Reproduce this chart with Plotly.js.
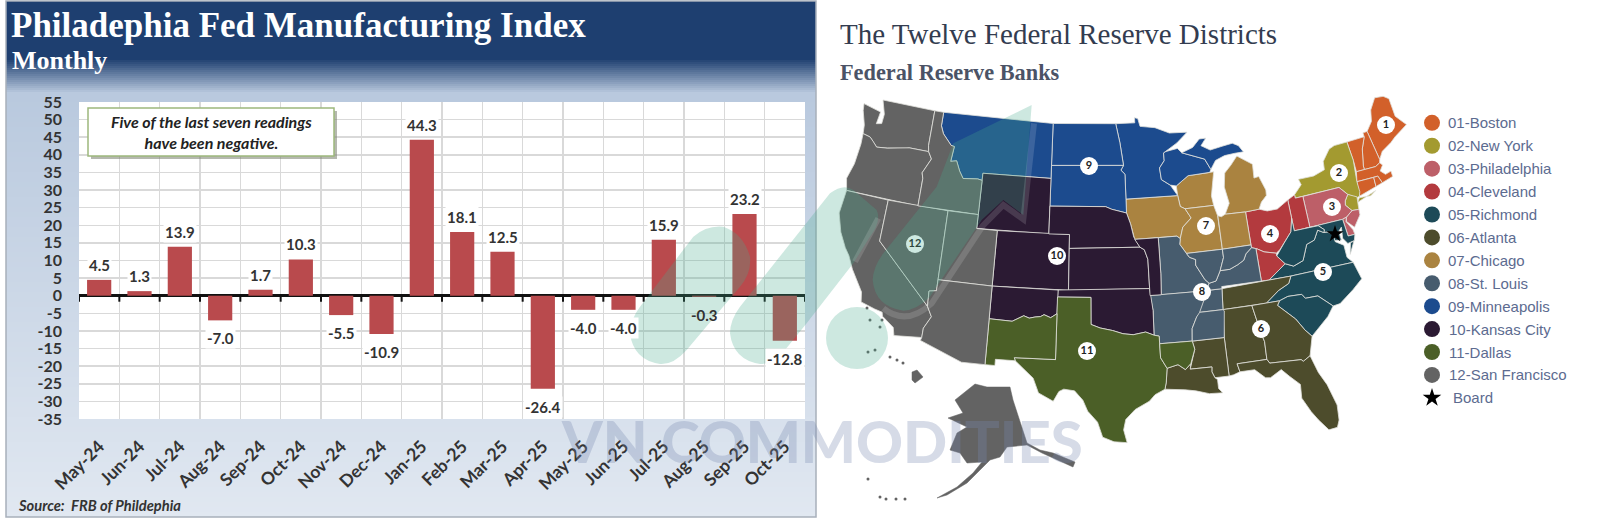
<!DOCTYPE html>
<html><head><meta charset="utf-8"><script src="https://cdn.plot.ly/plotly-3.0.1.min.js"></script>
<style>html,body{margin:0;padding:0;background:#fff;overflow:hidden}#c{width:1600px;height:522px}</style></head><body><div id="c"></div>
<script>
// ---------- chart data ----------
const months=["May-24","Jun-24","Jul-24","Aug-24","Sep-24","Oct-24","Nov-24","Dec-24","Jan-25","Feb-25","Mar-25","Apr-25","May-25","Jun-25","Jul-25","Aug-25","Sep-25","Oct-25"];
const readings=[4.5,1.3,13.9,-7.0,1.7,10.3,-5.5,-10.9,44.3,18.1,12.5,-26.4,-4.0,-4.0,15.9,-0.3,23.2,-12.8];
const yTicks=[55,50,45,40,35,30,25,20,15,10,5,0,-5,-10,-15,-20,-25,-30,-35];
// ---------- districts ----------
const districtNames=["01-Boston","02-New York","03-Philadelphia","04-Cleveland","05-Richmond","06-Atlanta","07-Chicago","08-St. Louis","09-Minneapolis","10-Kansas City","11-Dallas","12-San Francisco"];
const districtColors=["#d2602a","#a39a30","#bd5f68","#b33a3e","#1d4a58","#4d4c2c","#aa8340","#475c6e","#1c4b8e","#2b1a33","#4b5f27","#636363"];
const badgeLabels=["1","2","3","4","5","6","7","8","9","10","11","12"];
const badgeXY=[[1386,125],[1339,173],[1332,207],[1270,234],[1323,272],[1261,329],[1206,226],[1202,292],[1089,166],[1057,256],[1087,351],[915,244]];
const boardXY=[1335,234];
// ---------- state outlines, lon/lat ----------
const WA=[[-124.7,48.4],[-123.1,48.15],[-122.75,48.1],[-122.9,47.2],[-122.35,47.3],[-122.3,48.0],[-122.6,48.6],[-122.8,49],[-117.03,49],[-117.04,46.42],[-116.92,45.99],[-118.98,46],[-119.3,45.93],[-121.2,45.65],[-122.3,45.55],[-122.8,45.9],[-123.2,46.15],[-124,46.27],[-124.1,46.9],[-124.6,47.9]];
const OR=[[-124,46.27],[-123.2,46.15],[-122.8,45.9],[-122.3,45.55],[-121.2,45.65],[-119.3,45.93],[-118.98,46],[-116.92,45.99],[-116.5,45.5],[-117.2,44.4],[-117.03,44],[-117.03,42],[-124.2,42],[-124.5,42.85],[-124.1,44],[-123.95,45.5]];
const CA=[[-124.2,42],[-120,42],[-120,39],[-114.63,35],[-114.15,34.3],[-114.7,33.4],[-114.72,32.72],[-117.12,32.53],[-117.3,33.1],[-118.4,33.75],[-118.5,34.03],[-119.2,34.15],[-120.5,34.45],[-120.65,35.15],[-121.9,36.6],[-122.5,37.5],[-123,38],[-123.75,39],[-124.35,40.3]];
const NV=[[-120,42],[-114.04,42],[-114.04,36.2],[-114.7,36.1],[-114.63,35],[-120,39]];
const ID=[[-117.03,49],[-116.05,49],[-116.05,48],[-115.7,47.45],[-114.7,46.7],[-114.35,46.65],[-114.5,45.55],[-113.9,45.65],[-113.45,44.95],[-113,44.45],[-111.5,44.55],[-111.05,44.48],[-111.05,42],[-117.03,42],[-117.03,44],[-117.2,44.4],[-116.5,45.5],[-116.92,45.99],[-117.04,46.42]];
const MT=[[-116.05,49],[-104.05,49],[-104.05,45],[-111.05,45],[-111.05,44.48],[-111.5,44.55],[-113,44.45],[-113.45,44.95],[-113.9,45.65],[-114.5,45.55],[-114.35,46.65],[-114.7,46.7],[-115.7,47.45],[-116.05,48]];
const WY=[[-111.05,45],[-104.05,45],[-104.05,41],[-111.05,41]];
const UT=[[-114.04,42],[-111.05,42],[-111.05,41],[-109.05,41],[-109.05,37],[-114.04,37]];
const CO=[[-109.05,41],[-102.05,41],[-102.05,37],[-109.05,37]];
const AZ=[[-114.04,37],[-109.05,37],[-109.05,31.33],[-111.07,31.33],[-114.8,32.5],[-114.72,32.72],[-114.7,33.4],[-114.15,34.3],[-114.63,35],[-114.7,36.1],[-114.04,36.2]];
const NMn=[[-109.05,37],[-103,37],[-103.04,35.3],[-103.6,35],[-104.2,35.2],[-104.5,35.05],[-105,35.0],[-105.5,34.9],[-106,35.05],[-107,34.6],[-109.05,34.65]];
const NMs=[[-109.05,34.65],[-107,34.6],[-106,35.05],[-105.5,34.9],[-105,35.0],[-104.5,35.05],[-104.2,35.2],[-103.6,35],[-103.04,35.3],[-103.06,32],[-106.6,32],[-106.5,31.78],[-108.2,31.78],[-108.2,31.33],[-109.05,31.33]];
const TX=[[-103.04,36.5],[-100,36.5],[-100,34.56],[-99.2,34.3],[-98.1,34.1],[-97.2,33.85],[-96.3,33.75],[-95.2,33.9],[-94.48,33.64],[-94.04,33.55],[-94.04,31.99],[-93.55,31.2],[-93.7,30.2],[-93.85,29.7],[-94.7,29.35],[-95.2,28.9],[-96.4,28.35],[-97.2,27.65],[-97.4,26.9],[-97.15,25.96],[-98.2,26.05],[-99.1,26.4],[-99.5,27.5],[-100.3,28.3],[-100.7,29.1],[-101.4,29.77],[-102.3,29.88],[-102.7,29.7],[-103.15,28.98],[-104.4,29.55],[-104.9,30.6],[-106.5,31.78],[-106.6,32],[-103.06,32]];
const OK=[[-103,37],[-94.62,37],[-94.43,35.4],[-94.48,33.64],[-95.2,33.9],[-96.3,33.75],[-97.2,33.85],[-98.1,34.1],[-99.2,34.3],[-100,34.56],[-100,36.5],[-103.04,36.5]];
const KS=[[-102.05,40],[-95.3,40],[-94.9,39.8],[-94.62,39.1],[-94.62,37],[-102.05,37]];
const NE=[[-104.05,43],[-98.5,43],[-97.9,42.8],[-96.45,42.5],[-96.1,41.7],[-95.85,40.75],[-95.3,40],[-102.05,40],[-102.05,41],[-104.05,41]];
const SD=[[-104.05,45.94],[-96.56,45.94],[-96.85,45.6],[-96.45,45.3],[-96.45,43.5],[-96.45,42.5],[-97.9,42.8],[-98.5,43],[-104.05,43]];
const ND=[[-104.05,49],[-97.23,49],[-96.85,47.6],[-96.56,45.94],[-104.05,45.94]];
const MN=[[-97.23,49],[-95.15,49],[-95.15,49.38],[-94.8,49.3],[-94.6,48.72],[-93,48.55],[-91.5,48.07],[-89.6,48],[-90.8,47.3],[-92.05,46.75],[-92.3,46.66],[-92.3,46.1],[-92.85,45.6],[-92.75,44.75],[-91.9,44.3],[-91.25,43.5],[-96.45,43.5],[-96.45,45.3],[-96.85,45.6],[-96.56,45.94],[-96.85,47.6]];
const IA=[[-96.45,43.5],[-91.25,43.5],[-91.1,42.7],[-90.65,42.5],[-90.15,41.8],[-91.05,41.2],[-91.4,40.4],[-91.7,40.6],[-95.77,40.58],[-96.1,41.7],[-96.45,42.5]];
const MOw=[[-95.77,40.58],[-93.5,40.6],[-93.5,38],[-93.6,36.5],[-94.62,36.5],[-94.62,37],[-94.62,39.1],[-94.9,39.8],[-95.3,40]];
const MOe=[[-93.5,40.6],[-91.7,40.6],[-91.4,40.4],[-91.5,40],[-90.95,39.3],[-90.7,39],[-90.15,38.8],[-90.2,38.4],[-89.5,37.3],[-89.15,37],[-89.4,36.5],[-89.7,36],[-90.35,36],[-90.1,36.5],[-93.6,36.5],[-93.5,38]];
const AR=[[-94.62,36.5],[-90.1,36.5],[-90.35,36],[-89.7,36],[-90.1,35],[-90.6,34.7],[-91.1,33.9],[-91.2,33],[-94.04,33],[-94.04,33.55],[-94.48,33.64],[-94.43,35.4]];
const LAn=[[-94.04,33],[-91.2,33],[-91.05,32.4],[-91.5,31.4],[-92,31],[-92.6,31.4],[-93.55,31.2],[-94.04,31.99]];
const LAs=[[-93.55,31.2],[-92.6,31.4],[-92,31],[-91.5,31.4],[-91.6,31],[-89.75,31],[-89.8,30.65],[-89.6,30.2],[-89.4,30.05],[-89.4,29.4],[-89.1,29.05],[-90.2,29.1],[-91.3,29.4],[-92.2,29.55],[-93.85,29.7],[-93.7,30.2]];
const MSn=[[-90.3,35],[-88.2,35],[-88.1,34.9],[-88.4,33],[-91.2,33],[-91.1,33.9],[-90.6,34.7]];
const MSs=[[-91.2,33],[-88.4,33],[-88.4,30.2],[-89.6,30.2],[-89.8,30.65],[-89.75,31],[-91.6,31],[-91.05,32.4]];
const TNw=[[-89.5,36.5],[-88.05,36.5],[-88.2,35],[-90.3,35],[-89.7,36]];
const TNe=[[-88.05,36.5],[-83.68,36.6],[-81.68,36.59],[-82,36.1],[-83,35.75],[-84.3,35],[-88.2,35]];
const AL=[[-88.2,35],[-85.6,35],[-85.2,33],[-85,32.3],[-85.05,31],[-87.6,31],[-87.45,30.4],[-88,30.25],[-88.4,30.2],[-88.4,33]];
const GA=[[-85.6,35],[-83.1,35],[-83.35,34.7],[-82,33.5],[-81.4,32.6],[-80.9,32.05],[-81.4,30.7],[-82.05,30.4],[-82.2,30.55],[-84.86,30.7],[-85.05,31],[-85,32.3],[-85.2,33]];
const FL=[[-87.6,31],[-85.05,31],[-84.86,30.7],[-82.2,30.55],[-82.05,30.4],[-81.4,30.7],[-81,29.4],[-80.5,28.4],[-80.05,26.8],[-80.15,25.7],[-80.4,25.2],[-81.1,25.15],[-81.75,26],[-82.2,26.7],[-82.75,27.8],[-82.65,28.8],[-83.4,29.5],[-84,30.1],[-85,29.65],[-85.4,29.7],[-86.2,30.4],[-87.45,30.4]];
const SC=[[-83.1,35],[-82.3,35.2],[-81.05,35.15],[-80.8,34.82],[-79.67,34.8],[-78.55,33.85],[-79.2,33.2],[-80.9,32.05],[-81.4,32.6],[-82,33.5],[-83.35,34.7]];
const NC=[[-84.3,35],[-83,35.75],[-82,36.1],[-81.68,36.59],[-75.87,36.55],[-75.5,35.25],[-76.5,34.65],[-77.9,33.9],[-78.55,33.85],[-79.67,34.8],[-80.8,34.82],[-81.05,35.15],[-82.3,35.2],[-83.1,35]];
const VA=[[-83.68,36.6],[-81.68,36.59],[-75.87,36.55],[-76.3,37],[-76.3,37.9],[-77,38.3],[-77.05,38.85],[-77.5,39.1],[-77.83,39.13],[-78.35,39.4],[-78.87,38.76],[-79.65,38.58],[-80.3,37.5],[-81.25,37.25],[-81.97,37.54]];
const VAe=[[-75.95,37.15],[-75.3,38],[-75.65,37.95]];
const WV=[[-82.6,38.2],[-81.97,37.54],[-81.25,37.25],[-80.3,37.5],[-79.65,38.58],[-78.87,38.76],[-78.35,39.4],[-77.83,39.13],[-77.72,39.32],[-78.2,39.7],[-79.48,39.72],[-80.52,39.72],[-80.52,40.64],[-80.85,39.7],[-81.7,39],[-82.2,38.6]];
const KYw=[[-89.15,37],[-88.5,37.1],[-88,37.8],[-87.1,37.8],[-86.3,38.05],[-85.7,38.3],[-85.4,38.73],[-84.8,39.1],[-84.4,38.98],[-84.4,36.62],[-88.05,36.65],[-88.05,36.5],[-89.5,36.5]];
const KYe=[[-84.4,38.98],[-84.3,38.95],[-83.7,38.65],[-82.6,38.4],[-82.6,38.2],[-81.97,37.54],[-83.68,36.6],[-84.4,36.62]];
const OH=[[-84.8,41.7],[-83.45,41.73],[-82.7,41.5],[-81.7,41.5],[-80.52,41.98],[-80.52,40.64],[-80.85,39.7],[-81.7,39],[-82.2,38.6],[-82.6,38.4],[-83.7,38.65],[-84.3,38.95],[-84.8,39.1]];
const INn=[[-87.53,41.72],[-87.2,41.62],[-86.8,41.76],[-84.8,41.7],[-84.8,39.3],[-87.53,39.3]];
const INs=[[-87.53,39.3],[-84.8,39.3],[-84.8,39.1],[-85.4,38.73],[-85.7,38.3],[-86.3,38.05],[-87.1,37.8],[-88,37.8],[-87.53,38.7]];
const ILn=[[-90.65,42.5],[-87.8,42.5],[-87.55,41.72],[-87.53,39.3],[-90.95,39.3],[-91.5,40],[-91.4,40.4],[-91.05,41.2],[-90.15,41.8]];
const ILs=[[-90.95,39.3],[-87.53,39.3],[-87.53,38.7],[-88,37.8],[-88.5,37.1],[-89.15,37],[-89.5,37.3],[-90.2,38.4],[-90.15,38.8],[-90.7,39]];
const WIn=[[-92.3,46.66],[-92.05,46.75],[-90.8,46.9],[-90.4,46.55],[-88.1,45.9],[-87.6,45.1],[-87.75,44.9],[-90,44.85],[-91.3,44.2],[-91.9,44.3],[-92.75,44.75],[-92.85,45.6],[-92.3,46.1]];
const WIs=[[-91.25,43.5],[-91.3,44.2],[-90,44.85],[-87.75,44.9],[-87.35,44.9],[-87.55,44.3],[-87.9,43.2],[-87.8,42.5],[-90.65,42.5],[-91.1,42.7]];
const MIu=[[-90.4,46.55],[-89.2,46.85],[-88.4,47.4],[-87.7,47.4],[-88.3,46.9],[-87.4,46.5],[-86.1,46.65],[-85,46.75],[-84.4,46.5],[-84,46],[-84.9,46],[-86,45.95],[-87,45.7],[-87.6,45.1],[-88.1,45.9]];
const MIl=[[-86.8,41.76],[-84.8,41.7],[-83.45,41.73],[-83.1,42.2],[-82.5,42.6],[-82.45,43],[-82.9,44.05],[-83.4,44],[-83.3,45],[-84.75,45.78],[-85.5,45.2],[-86.25,44.7],[-86.5,43.7],[-86.25,42.5]];
const PAw=[[-80.52,41.98],[-79.76,42.25],[-79.76,42],[-79,42],[-79,39.72],[-80.52,39.72]];
const PAe=[[-79,42],[-75.35,42],[-74.7,41.35],[-75.1,40.95],[-75.2,40.65],[-74.72,40.15],[-75.4,39.8],[-75.8,39.72],[-79,39.72]];
const NY=[[-79.76,42.25],[-78.9,42.85],[-79.05,43.27],[-77.5,43.25],[-76.3,43.5],[-76.2,44.1],[-75.3,44.85],[-74.7,45],[-73.35,45],[-73.25,43.6],[-73.5,42.05],[-73.5,41.3],[-73.65,41],[-73.9,40.95],[-74.05,41],[-74.7,41.35],[-75.35,42],[-79.76,42]];
const LI=[[-74,40.6],[-72,41.05],[-72.6,40.8],[-73.7,40.9]];
const NJn=[[-74.7,41.35],[-73.9,41],[-74,40.45],[-74.05,40.1],[-74.72,40.15],[-75.2,40.65],[-75.1,40.95]];
const NJs=[[-74.72,40.15],[-74.05,40.1],[-74.1,39.7],[-74.9,38.95],[-75.5,39.5],[-75.4,39.8]];
const DE=[[-75.8,39.72],[-75.4,39.8],[-75.55,39.5],[-75.1,38.8],[-75.05,38.45],[-75.7,38.46]];
const MD=[[-79.48,39.72],[-75.8,39.72],[-75.7,38.46],[-75.05,38.45],[-75.25,38.03],[-75.9,37.95],[-76.25,38.4],[-76.1,39.2],[-76.45,38.95],[-76.4,38.3],[-77.05,38.4],[-77.05,38.85],[-77.5,39.1],[-77.83,39.13],[-77.72,39.32],[-78.2,39.7]];
const CT=[[-73.5,42.05],[-71.8,42],[-71.85,41.32],[-73.65,41]];
const RI=[[-71.8,42],[-71.38,42],[-71.15,41.45],[-71.85,41.32]];
const MA=[[-73.5,42.05],[-73.27,42.75],[-71.3,42.7],[-70.8,42.87],[-70.6,42.65],[-71,42.3],[-70.6,41.95],[-70,42.05],[-70,41.65],[-71.15,41.45],[-71.38,42]];
const VT=[[-73.35,45],[-71.5,45],[-72.05,44.2],[-72.45,43],[-72.45,42.73],[-73.27,42.75],[-73.25,43.6]];
const NH=[[-71.5,45.3],[-71.05,45.3],[-70.7,43.1],[-70.8,42.87],[-71.3,42.7],[-72.45,42.73],[-72.45,43],[-72.05,44.2],[-71.5,45]];
const ME=[[-71.05,45.3],[-70.3,45.9],[-70,46.7],[-69.2,47.45],[-68.3,47.35],[-67.8,47.05],[-67.8,45.7],[-67.4,45.3],[-67,44.85],[-68.5,44.3],[-69.1,44],[-70.2,43.6],[-70.7,43.1]];
const regions=[[ME,1],[NH,1],[VT,1],[MA,1],[CT,1],[RI,1],[NY,2],[LI,2],[NJn,2],[NJs,3],[PAe,3],[DE,3],[PAw,4],[OH,4],[KYe,4],[MD,5],[VA,5],[VAe,5],[WV,5],[NC,5],[SC,5],[TNe,6],[AL,6],[GA,6],[FL,6],[MSs,6],[LAs,6],[MIl,7],[WIs,7],[IA,7],[ILn,7],[INn,7],[MOe,8],[AR,8],[TNw,8],[MSn,8],[KYw,8],[ILs,8],[INs,8],[MN,9],[ND,9],[SD,9],[MT,9],[WIn,9],[MIu,9],[WY,10],[CO,10],[NE,10],[KS,10],[OK,10],[MOw,10],[NMn,10],[TX,11],[NMs,11],[LAn,11],[WA,12],[OR,12],[CA,12],[NV,12],[ID,12],[UT,12],[AZ,12]];
// insets are read straight off the picture, in canvas units
const alaska=[[975,384],[987,387],[1010,387],[1013,400],[1027,443],[1040,450],[1053,453],[1075,462],[1073,467],[1057,460],[1042,453],[1027,445],[1007,447],[1000,457],[990,460],[980,470],[967,483],[947,495],[937,498],[957,487],[973,473],[982,462],[967,463],[960,453],[950,450],[957,433],[967,427],[948,418],[963,413],[955,400],[965,392]];
const hawaii=[[912,372],[917,370],[923,377],[915,383],[912,380]];
const islets=[[903,363],[890,357],[897,360],[867,308],[870,320],[882,320],[880,327],[875,350],[868,352],[868,479],[880,497],[886,499],[896,499],[905,499]];

// ---------- projection (Albers conic, turned slightly to suit the picture) ----------
const rad=Math.PI/180,p1=29.5*rad,p2=45.5*rad,p0=37.5*rad,l0=-97.5;
const nn=(Math.sin(p1)+Math.sin(p2))/2,CC=Math.cos(p1)**2+2*nn*Math.sin(p1),r0=Math.sqrt(CC-2*nn*Math.sin(p0))/nn;
const SCALE=791,OX=1118,OY=283,TURN=0.03;
function proj(lon,lat){const r=Math.sqrt(CC-2*nn*Math.sin(lat*rad))/nn,t=nn*(lon-l0)*rad;const dx=SCALE*r*Math.sin(t),dy=-SCALE*(r0-r*Math.cos(t));return [OX+dx+TURN*dy,OY+dy-TURN*dx];}

const traces=[];
traces.push({type:'bar',x:months,y:readings,marker:{color:'#b94a4d'},width:0.6,xaxis:'x',yaxis:'y',hoverinfo:'skip',showlegend:false});
regions.forEach(([poly,d])=>{const pts=poly.map(p=>proj(p[0],p[1]));pts.push(pts[0]);
  traces.push({type:'scatter',mode:'lines',x:pts.map(p=>p[0]),y:pts.map(p=>p[1]),fill:'toself',fillcolor:districtColors[d-1],line:{color:'rgba(225,225,220,0.8)',width:1},xaxis:'x2',yaxis:'y2',hoverinfo:'skip',showlegend:false});});
[alaska,hawaii].forEach(poly=>{const c=poly.concat([poly[0]]);traces.push({type:'scatter',mode:'lines',x:c.map(p=>p[0]),y:c.map(p=>p[1]),fill:'toself',fillcolor:districtColors[11],line:{color:districtColors[11],width:0.5},xaxis:'x2',yaxis:'y2',hoverinfo:'skip',showlegend:false});});
traces.push({type:'scatter',mode:'markers',x:islets.map(p=>p[0]),y:islets.map(p=>p[1]),marker:{color:districtColors[11],size:3},xaxis:'x2',yaxis:'y2',hoverinfo:'skip',showlegend:false});
traces.push({type:'scatter',mode:'markers+text',x:badgeXY.map(p=>p[0]),y:badgeXY.map(p=>p[1]),text:badgeLabels,textposition:'middle center',textfont:{family:'Lato',size:11,weight:700,color:'#222'},marker:{color:'#fff',size:18},xaxis:'x2',yaxis:'y2',hoverinfo:'skip',showlegend:false});
traces.push({type:'scatter',mode:'markers',x:[boardXY[0]],y:[boardXY[1]],marker:{symbol:'star',color:'#000',size:13},xaxis:'x2',yaxis:'y2',hoverinfo:'skip',showlegend:false});
const lx=1432,ly0=122.8,ldy=22.92;
traces.push({type:'scatter',mode:'markers',x:districtNames.map(()=>lx),y:districtNames.map((_,i)=>ly0+i*ldy),marker:{color:districtColors,size:16},xaxis:'x2',yaxis:'y2',hoverinfo:'skip',showlegend:false});
traces.push({type:'scatter',mode:'markers',x:[lx],y:[ly0+12*ldy],marker:{symbol:'star',color:'#000',size:14},xaxis:'x2',yaxis:'y2',hoverinfo:'skip',showlegend:false});

// ---------- decoration shapes ----------
const mix=(a,b,t)=>{const h=s=>[1,3,5].map(i=>parseInt(s.substr(i,2),16)),A=h(a),B=h(b);return 'rgb('+A.map((v,i)=>Math.round(v+(B[i]-v)*t)).join(',')+')';};
const PX=x=>x/1600,PY=y=>1-y/522;
const shapes=[];
const lowRect=(x0,x1,y0,y1,fill,line)=>shapes.push({type:'rect',xref:'paper',yref:'paper',x0:PX(x0),x1:PX(x1),y0:PY(y0),y1:PY(y1),fillcolor:fill,line:line||{width:0},layer:'below'});
lowRect(6,816,1,58,'#1e3f70');
for(let y=58;y<92;y+=2) lowRect(6,816,y,y+2.5,mix('#1e3f70','#b9c9de',(y-58)/34));
for(let y=92;y<517;y+=5) lowRect(6,816,y,Math.min(y+5.5,517),mix('#b9c9de','#e1e8f1',(y-92)/425));
lowRect(6,816,1,517,'rgba(0,0,0,0)',{color:'#a8b0bb',width:1.5});
lowRect(79,805,102,419,'#fff');
for(let i=0;i<=18;i++) shapes.push({type:'line',xref:'x',yref:'y',x0:i-0.5,x1:i-0.5,y0:0,y1:-1.7,line:{color:'#111',width:2},layer:'above'});
shapes.push({type:'rect',xref:'x2',yref:'y2',x0:91,x1:337,y0:111,y1:159,fillcolor:'rgba(120,125,110,0.55)',line:{width:0},layer:'above'});
shapes.push({type:'rect',xref:'x2',yref:'y2',x0:88,x1:334,y0:108,y1:156,fillcolor:'#fff',line:{color:'#9db87c',width:1.5},layer:'above'});
const mark='rgba(70,170,140,0.27)';
const wx=z=>610+z/3,wy=z=>90+z/3;
const wp=(cmd)=>cmd.replace(/(-?\d+),(-?\d+)/g,(m,a,b)=>wx(+a)+','+wy(+b));
shapes.push({type:'path',xref:'x2',yref:'y2',path:wp('M 60,730 Q 60,690 90,650 L 250,440 Q 290,405 340,410 Q 400,430 420,500 Q 425,550 390,590 L 230,780 Q 190,825 150,822 Q 70,810 60,730 Z'),fillcolor:mark,line:{width:0},layer:'above'});
shapes.push({type:'path',xref:'x2',yref:'y2',path:wp('M 360,730 Q 360,690 390,650 L 660,310 Q 700,280 730,300 L 800,360 Q 815,395 780,440 L 730,520 L 590,700 L 525,780 Q 490,825 450,822 Q 370,810 360,730 Z'),fillcolor:mark,line:{width:0},layer:'above'});
shapes.push({type:'path',xref:'x2',yref:'y2',path:wp('M 788,570 Q 790,530 820,490 L 980,290 L 1030,160 L 1265,45 L 1240,375 L 1180,330 L 1115,390 L 1000,560 L 960,620 Q 920,660 880,662 Q 795,650 788,570 Z'),fillcolor:mark,line:{width:0},layer:'above'});
shapes.push({type:'circle',xref:'x2',yref:'y2',x0:857-31,x1:857+31,y0:338-31,y1:338+31,fillcolor:mark,line:{width:0},layer:'above'});
// the pale streaks where the watermark's strokes meet
const streak='rgba(255,255,255,0.14)';
shapes.push({type:'path',xref:'x2',yref:'y2',path:wp('M 805,385 L 735,515'),fillcolor:'rgba(0,0,0,0)',line:{color:streak,width:6},layer:'above'});
shapes.push({type:'path',xref:'x2',yref:'y2',path:wp('M 820,655 Q 890,710 965,640 L 1118,408 L 1180,345 L 1240,388 L 1272,100'),fillcolor:'rgba(0,0,0,0)',line:{color:streak,width:6},layer:'above'});

// ---------- annotations ----------
const txt=(x,y,text,font,extra)=>Object.assign({xref:'x2',yref:'y2',x,y,text,showarrow:false,xanchor:'left',yanchor:'middle',font},extra||{});
const ann=[];
readings.forEach((v,i)=>ann.push({xref:'x',yref:'y',x:months[i],y:v,text:v.toFixed(1),showarrow:false,yanchor:'middle',yshift:v>=0?15:-18,bgcolor:v===-0.3?'rgba(255,255,255,0)':'#fff',borderpad:1,font:{family:'Lato',size:15,weight:700,color:'#333'}}));
ann.push(txt(9,25,'Philadephia Fed Manufacturing Index',{family:'Liberation Serif',size:35,weight:700,color:'#fff'}));
ann.push(txt(10,60,'Monthly',{family:'Liberation Serif',size:26,weight:700,color:'#fff'}));
ann.push(txt(211,132,'<b><i>Five of the last seven readings<br>have been negative.</i></b>',{family:'Lato',size:16,color:'#222'},{xanchor:'center'}));
ann.push(txt(16,505,'<b><i>Source:  FRB of Phildephia</i></b>',{family:'Lato',size:14.7,color:'#333'}));
ann.push(txt(838,34,'The Twelve Federal Reserve Districts',{family:'Liberation Serif',size:29,color:'#333c50'}));
ann.push(txt(838,72,'Federal Reserve Banks',{family:'Liberation Serif',size:22.3,weight:700,color:'#4b5366'}));
districtNames.forEach((n,i)=>ann.push(txt(i>=9?1447:1446,ly0+i*ldy,n,{family:'Liberation Sans',size:15,color:'#5c6b90'})));
ann.push(txt(1451,ly0+12*ldy,'Board',{family:'Liberation Sans',size:15,color:'#5c6b90'}));
ann.push(txt(822,440,'VN COMMODITIES',{family:'Lato',size:58,weight:900,color:'rgba(120,135,175,0.3)'},{xanchor:'center'}));

const tickFont={family:'Lato',size:16,weight:700,color:'#333'};
Plotly.newPlot('c',traces,{width:1600,height:522,margin:{l:0,r:0,t:0,b:0,pad:0},showlegend:false,
  paper_bgcolor:'#fff',plot_bgcolor:'rgba(0,0,0,0)',
  xaxis:{domain:[79/1600,805/1600],range:[-0.5,17.5],type:'category',categoryorder:'array',categoryarray:months,tickson:'boundaries',tickangle:-45,ticklen:0,ticklabelstandoff:13,tickfont:{family:'Lato',size:17.5,weight:700,color:'#333'},showgrid:true,gridcolor:'#d9d9d9',gridwidth:1.5,zeroline:false,showline:false,anchor:'y'},
  yaxis:{domain:[1-419/522,1-102/522],range:[-35,55],tickmode:'array',tickvals:yTicks,ticktext:yTicks.map(String),ticklen:0,ticklabelstandoff:16,tickfont:tickFont,showgrid:true,gridcolor:'#d9d9d9',gridwidth:1.5,zeroline:true,zerolinecolor:'#111',zerolinewidth:2.5,anchor:'x'},
  xaxis2:{domain:[0,1],range:[0,1600],visible:false,anchor:'y2'},
  yaxis2:{domain:[0,1],range:[522,0],visible:false,anchor:'x2'},
  shapes,annotations:ann},{staticPlot:true,displayModeBar:false});
</script></body></html>
